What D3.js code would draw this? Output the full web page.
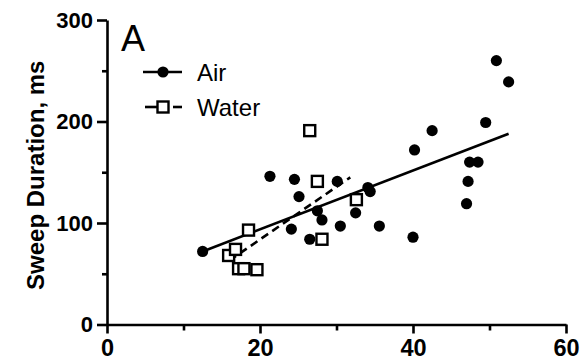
<!DOCTYPE html>
<html>
<head>
<meta charset="utf-8">
<script src="https://cdn.jsdelivr.net/npm/d3@7/dist/d3.min.js"></script>
<style>
  html, body { margin: 0; padding: 0; background: #fff; }
  svg { display: block; }
  text { font-family: "Liberation Sans", Arial, Helvetica, sans-serif; fill: #000; }
</style>
</head>
<body>
<svg id="chart" width="581" height="363"></svg>
<script>
// ---- data ----
const airX = [12.5, 21.3, 24.5, 25.1, 24.1, 26.5, 27.5, 28.1, 30.1, 30.5, 32.5, 34.1, 34.4, 35.6, 40.0, 40.2, 42.5, 47.0, 47.2, 47.4, 48.5, 49.5, 50.9, 52.5];
const airY = [72, 146, 143, 126, 94, 84, 112, 103, 141, 97, 110, 135, 131, 97, 86, 172, 191, 119, 141, 160, 160, 199, 260, 239];
const waterX = [15.9, 16.8, 17.2, 17.9, 18.5, 19.6, 26.5, 27.5, 28.1, 32.6];
const waterY = [68, 74, 55, 55, 93, 54, 191, 141, 84, 123];
const airFitX = [12.5, 52.5];
const airFitY = [72, 188];
const waterFitX = [16.0, 31.8];
const waterFitY = [63, 145];
const xTicks = [0, 20, 40, 60];
const xMinorTicks = [10, 30, 50];
const yTicks = [0, 100, 200, 300];
const yMinorTicks = [50, 150, 250];
const seriesNames = ["Air", "Water"];
const yTitle = "Sweep Duration, ms";
const panelLabel = "A";

// ---- drawing ----
const svg = d3.select("#chart");
const x = d3.scaleLinear().domain([0, 60]).range([107, 566]);
const y = d3.scaleLinear().domain([0, 300]).range([324.5, 20]);

const air = airX.map((v, i) => ({x: v, y: airY[i]}));
const water = waterX.map((v, i) => ({x: v, y: waterY[i]}));

// axes
svg.append("g").attr("transform", `translate(${x(0)},0)`)
  .call(d3.axisLeft(y).tickValues(yTicks).tickSize(10).tickPadding(4).tickSizeOuter(0))
  .selectAll(".tick text").attr("font-size", 22);
const yMinor = svg.append("g").attr("transform", `translate(${x(0)},0)`)
  .call(d3.axisLeft(y).tickValues(yMinorTicks).tickSize(5).tickFormat("").tickSizeOuter(0));
yMinor.select(".domain").remove();

svg.append("g").attr("transform", `translate(0,${y(0)})`)
  .call(d3.axisBottom(x).tickValues(xTicks).tickSize(9).tickPadding(6).tickSizeOuter(0))
  .selectAll(".tick text").attr("font-size", 23.5);
const xMinor = svg.append("g").attr("transform", `translate(0,${y(0)})`)
  .call(d3.axisBottom(x).tickValues(xMinorTicks).tickSize(6).tickFormat("").tickSizeOuter(0));
xMinor.select(".domain").remove();

svg.selectAll(".domain").attr("stroke", "#000").attr("stroke-width", 2.6);
svg.selectAll(".tick line").attr("stroke", "#000").attr("stroke-width", 2.6);
svg.selectAll(".tick text")
  .attr("font-family", "'Liberation Sans', Arial, sans-serif")
  .attr("font-weight", "bold").attr("fill", "#000");

// y title
svg.append("text")
  .attr("transform", `translate(44,${y(147)}) rotate(-90)`)
  .attr("text-anchor", "middle")
  .attr("font-size", 24).attr("font-weight", "bold")
  .text(yTitle);

// panel label
svg.append("text").attr("x", 121).attr("y", 51)
  .attr("font-size", 36).text(panelLabel);

// fit lines
const line = d3.line().x(d => x(d[0])).y(d => y(d[1]));
svg.append("path")
  .datum(airFitX.map((v, i) => [v, airFitY[i]]))
  .attr("d", line).attr("fill", "none").attr("stroke", "#000").attr("stroke-width", 2.6);
svg.append("path")
  .datum(waterFitX.map((v, i) => [v, waterFitY[i]]))
  .attr("d", line).attr("fill", "none").attr("stroke", "#000").attr("stroke-width", 2.6)
  .attr("stroke-dasharray", "8,5");

// points
svg.append("g").selectAll("circle").data(air).join("circle")
  .attr("cx", d => x(d.x)).attr("cy", d => y(d.y)).attr("r", 5.6).attr("fill", "#000");
const sq = 11;
svg.append("g").selectAll("rect").data(water).join("rect")
  .attr("x", d => x(d.x) - sq / 2).attr("y", d => y(d.y) - sq / 2)
  .attr("width", sq).attr("height", sq)
  .attr("fill", "#fff").attr("stroke", "#000").attr("stroke-width", 2.4);

// legend
const lg = svg.append("g");
const legY = [72, 107];
lg.append("line").attr("x1", 143).attr("x2", 182).attr("y1", legY[0]).attr("y2", legY[0])
  .attr("stroke", "#000").attr("stroke-width", 2.6);
lg.append("circle").attr("cx", 163).attr("cy", legY[0]).attr("r", 5.6).attr("fill", "#000");
lg.append("line").attr("x1", 145).attr("x2", 157).attr("y1", legY[1]).attr("y2", legY[1])
  .attr("stroke", "#000").attr("stroke-width", 2.6);
lg.append("line").attr("x1", 173).attr("x2", 182).attr("y1", legY[1]).attr("y2", legY[1])
  .attr("stroke", "#000").attr("stroke-width", 2.6);
lg.append("rect").attr("x", 157.5).attr("y", legY[1] - 5.5).attr("width", 11).attr("height", 11)
  .attr("fill", "#fff").attr("stroke", "#000").attr("stroke-width", 2.4);
seriesNames.forEach((n, i) => {
  lg.append("text").attr("x", 197).attr("y", legY[i] + 9)
    .attr("font-size", 24).text(n);
});
</script>
</body>
</html>
